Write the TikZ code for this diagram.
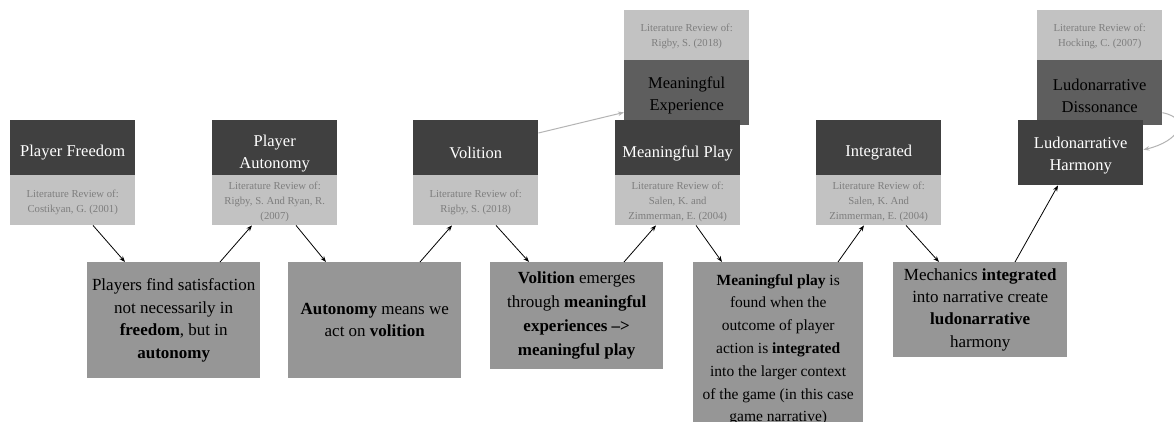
\documentclass[tikz,border=0pt]{standalone}
\usepackage{fontspec}
\setmainfont{Liberation Serif}
\usetikzlibrary{arrows.meta}

\definecolor{headdark}{HTML}{404040}
\definecolor{headmid}{HTML}{5E5E5E}
\definecolor{litfill}{HTML}{C2C2C2}
\definecolor{littext}{HTML}{7E7E7E}
\definecolor{notefill}{HTML}{969696}
\definecolor{linkgrey}{HTML}{B4B4B4}

\tikzset{
  head/.style={fill=headdark, anchor=north west,
    minimum width=125pt, minimum height=55pt, inner sep=0pt},
  headside/.style={head, fill=headmid, minimum height=65pt},
  headtext/.style={text=white, inner sep=0pt, align=center,
    font=\fontsize{16.5}{22}\selectfont},
  sidetext/.style={headtext, text=black},
  lit/.style={fill=litfill, text=littext, anchor=north west,
    minimum width=125pt, minimum height=50pt, inner sep=0pt, align=center,
    font=\fontsize{10.7}{15}\selectfont},
  littext/.style={text=littext, inner sep=0pt, align=center,
    font=\fontsize{10.7}{15}\selectfont},
  note/.style={fill=notefill, text=black, anchor=north west,
    minimum width=173pt, inner sep=0pt, align=center,
    font=\fontsize{17}{22.5}\selectfont},
  flow/.style={-{Stealth[length=6pt,width=4.5pt]}, line width=0.8pt, black},
  link/.style={-{Stealth[length=6pt,width=4.5pt]}, line width=1pt, linkgrey},
}

\begin{document}
\begin{tikzpicture}[x=1pt,y=1pt]
\clip (0,0) rectangle (1174,421);
\fill[white] (0,0) rectangle (1174,421);

% side branches behind the main row
\node[lit] (mel) at (624,411) {};
\node[littext] (melt) at ([yshift=-1pt]mel.center) {Literature Review of:\\Rigby, S. (2018)};
\node[headside] (meh) at (624,361) {};
\node[sidetext] (meht) at ([yshift=-3pt]meh.center) {Meaningful\\Experience};
\node[lit] (ldl) at (1037,411) {};
\node[littext] (ldlt) at ([yshift=-1pt]ldl.center) {Literature Review of:\\Hocking, C. (2007)};
\node[headside] (ldh) at (1037,361) {};
\node[sidetext] (ldht) at ([yshift=-3pt]ldh.center) {Ludonarrative\\Dissonance};

% main row of concepts
\node[head] (pfh) at (10,301) {};
\node[headtext] (pft) at ([yshift=-5pt]pfh.center) {Player Freedom};
\node[lit]  (pfl) at (10,246) {};
\node[littext] (pflt) at ([yshift=-2pt]pfl.center) {Literature Review of:\\Costikyan, G. (2001)};

\node[head] (pah) at (212,301) {};
\node[headtext] (pat) at ([yshift=-6pt]pah.center) {Player\\Autonomy};
\node[lit]  (pal) at (212,246) {};
\node[littext] (palt) at ([yshift=-2pt]pal.center) {Literature Review of:\\Rigby, S. And Ryan, R.\\(2007)};

\node[head] (voh) at (413,301) {};
\node[headtext] (vot) at ([yshift=-5pt]voh.center) {Volition};
\node[lit]  (vol) at (413,246) {};
\node[littext] (volt) at ([yshift=-2pt]vol.center) {Literature Review of:\\Rigby, S. (2018)};

\node[head] (mph) at (615,301) {};
\node[headtext] (mpt) at ([yshift=-6pt]mph.center) {Meaningful Play};
\node[lit]  (mpl) at (615,246) {};
\node[littext] (mplt) at ([yshift=-2pt]mpl.center) {Literature Review of:\\Salen, K. and\\Zimmerman, E. (2004)};

\node[head] (inh) at (816,301) {};
\node[headtext] (int) at ([yshift=-5pt]inh.center) {Integrated};
\node[lit]  (inl) at (816,246) {};
\node[littext] (inlt) at ([yshift=-2pt]inl.center) {Literature Review of:\\Salen, K. And\\Zimmerman, E. (2004)};

\node[head, minimum height=65pt] (lhh) at (1018,301) {};
\node[headtext] (lht) at ([yshift=-3pt]lhh.center) {Ludonarrative\\Harmony};

% explanatory notes
\node[note, minimum height=116pt] (n1) at (87,159)
  {Players find satisfaction\\not necessarily in\\\textbf{freedom}, but in\\\textbf{autonomy}};
\node[note, minimum height=116pt] (n2) at (288,159)
  {\textbf{Autonomy} means we\\act on \textbf{volition}};
\node[note, minimum height=107pt, font=\fontsize{17}{24}\selectfont] (n3) at (490,159)
  {\textbf{Volition} emerges\\through \textbf{meaningful}\\\textbf{experiences --{>}}\\\textbf{meaningful play}};
\node[note, minimum width=170pt, inner ysep=12pt,
      font=\fontsize{15.5}{22.8}\selectfont] (n4) at (693,159)
  {\textbf{Meaningful play} is\\found when the\\outcome of player\\action is \textbf{integrated}\\into the larger context\\of the game (in this case\\game narrative)\\[2pt]};
\node[note, minimum width=174pt, minimum height=95pt, font=\fontsize{17}{22.2}\selectfont] (n5) at (893,159)
  {Mechanics \textbf{integrated}\\into narrative create\\\textbf{ludonarrative}\\harmony};

% flow between concepts and notes
\draw[flow] ([xshift=83pt]pfl.south west) -- ([xshift=38pt]n1.north west);
\draw[flow] ([xshift=133pt]n1.north west) -- ([xshift=40pt]pal.south west);
\draw[flow] ([xshift=84pt]pal.south west) -- ([xshift=38pt]n2.north west);
\draw[flow] ([xshift=132pt]n2.north west) -- ([xshift=39pt]vol.south west);
\draw[flow] ([xshift=83pt]vol.south west) -- ([xshift=39pt]n3.north west);
\draw[flow] ([xshift=134pt]n3.north west) -- ([xshift=41pt]mpl.south west);
\draw[flow] ([xshift=81pt]mpl.south west) -- ([xshift=29pt]n4.north west);
\draw[flow] ([xshift=145pt]n4.north west) -- ([xshift=48pt]inl.south west);
\draw[flow] ([xshift=90pt]inl.south west) -- ([xshift=46pt]n5.north west);
\draw[flow] ([xshift=122pt]n5.north west) -- ([xshift=40pt]lhh.south west);

% side links
\draw[link] ([yshift=-13pt]voh.north east) -- ([yshift=13pt]meh.south west);
\draw[link] ([yshift=-20pt]ldh.east) .. controls +(30,-6) and +(35,8) .. ([yshift=3pt]lhh.east);
\end{tikzpicture}
\end{document}
